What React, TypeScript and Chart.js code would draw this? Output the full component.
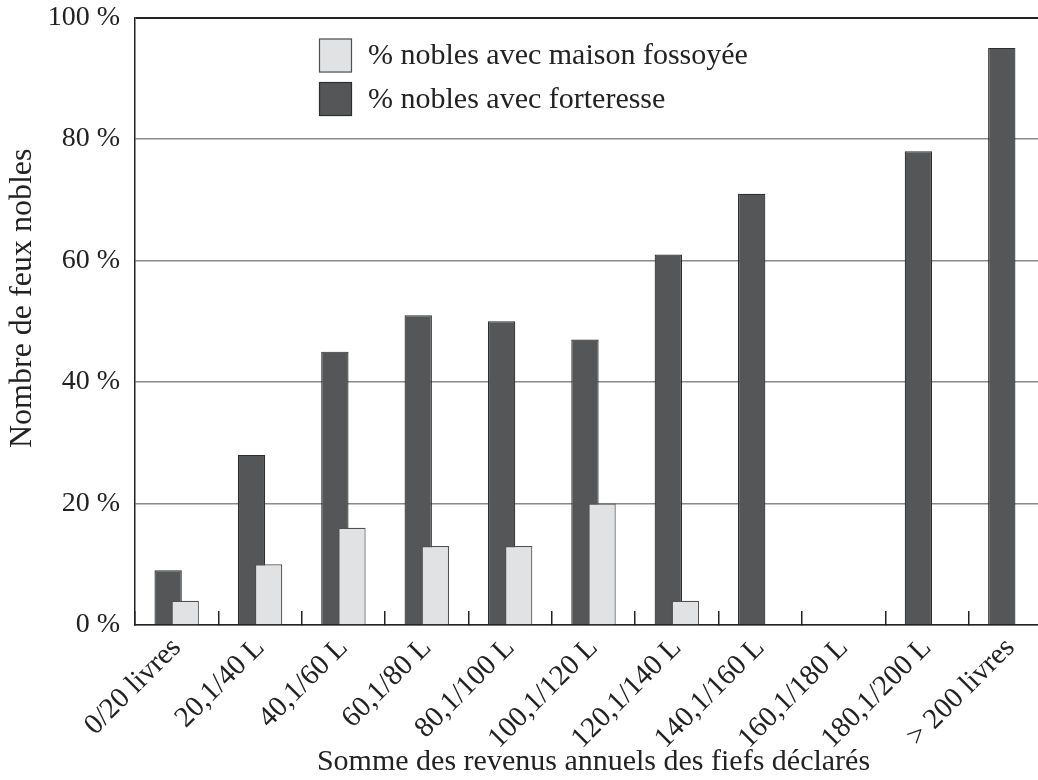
import React, { useEffect, useRef } from "react";
import { Chart, registerables } from "chart.js";

Chart.register(...registerables);

const categories = [
  "0/20 livres",
  "20,1/40 L",
  "40,1/60 L",
  "60,1/80 L",
  "80,1/100 L",
  "100,1/120 L",
  "120,1/140 L",
  "140,1/160 L",
  "160,1/180 L",
  "180,1/200 L",
  "> 200 livres",
];
const forteresse = [9, 28, 45, 51, 50, 47, 61, 71, 0, 78, 95];
const fossoyee = [4, 10, 16, 13, 13, 20, 4, 0, 0, 0, 0];
const yTicks = [0, 20, 40, 60, 80, 100];
const yTitle = "Nombre de feux nobles";

const FONT = "'Liberation Serif', 'DejaVu Serif', serif";
const TEXT = "#222";

const drawOrderPlugin = {
  id: "drawOrder",
  beforeDatasetsDraw(chart: any) {
    const metas = chart.getSortedVisibleDatasetMetas();
    const ctx = chart.ctx;
    const a = chart.chartArea;
    ctx.save();
    ctx.beginPath();
    ctx.rect(a.left, a.top - 2, a.right - a.left, a.bottom - a.top + 2);
    ctx.clip();
    for (const m of metas) m.controller.draw();
    ctx.restore();
    return false;
  },
};

const legendPlugin = {
  id: "insideLegend",
  afterDraw(chart: any) {
    const ctx = chart.ctx;
    const a = chart.chartArea;
    const order = [1, 0];
    const boxW = 33;
    const boxH = 34;
    const x0 = a.left + 184;
    const y0 = a.top + 21;
    ctx.save();
    order.forEach((di, i) => {
      const ds = chart.data.datasets[di];
      const y = y0 + i * 43.5;
      ctx.fillStyle = ds.backgroundColor;
      ctx.fillRect(x0, y, boxW, boxH);
      ctx.strokeStyle = ds.borderColor;
      ctx.lineWidth = 1.2;
      ctx.strokeRect(x0 + 0.5, y + 0.5, boxW - 1, boxH - 1);
      ctx.fillStyle = TEXT;
      ctx.font = `30px ${FONT}`;
      ctx.textBaseline = "middle";
      ctx.textAlign = "left";
      ctx.fillText(ds.label, x0 + boxW + 16, y + boxH / 2 + 1);
    });
    // y axis title
    ctx.translate(23, (a.top + a.bottom) / 2 - 23);
    ctx.rotate(-Math.PI / 2);
    ctx.font = `32px ${FONT}`;
    ctx.textAlign = "center";
    ctx.textBaseline = "middle";
    ctx.fillStyle = TEXT;
    ctx.fillText(yTitle, 0, 0);
    ctx.restore();
  },
};

export default function App() {
  const ref = useRef<HTMLCanvasElement>(null);
  useEffect(() => {
    if (!ref.current) return;
    const chart = new Chart(ref.current, {
      type: "bar",
      data: {
        labels: categories,
        datasets: [
          {
            label: "% nobles avec forteresse",
            data: forteresse,
            backgroundColor: "#555658",
            borderColor: "#2e2e2e",
            borderWidth: 1.2,
            categoryPercentage: 0.41,
            barPercentage: 1.6,
          },
          {
            label: "% nobles avec maison fossoyée",
            data: fossoyee,
            backgroundColor: "#e1e2e4",
            borderColor: "#505050",
            borderWidth: 1.2,
            categoryPercentage: 0.41,
            barPercentage: 1.6,
          },
        ],
      },
      options: {
        responsive: false,
        animation: false,
        layout: { padding: { top: 0, left: 0, right: 0, bottom: 0 } },
        plugins: {
          legend: { display: false },
          tooltip: { enabled: false },
        },
        scales: {
          x: {
            offset: true,
            grid: {
              offset: true,
              drawOnChartArea: false,
              drawTicks: true,
              tickLength: -14,
              color: "#222",
              lineWidth: 1.5,
            },
            border: { color: "#222", width: 1.5 },
            ticks: {
              maxRotation: 45,
              minRotation: 45,
              autoSkip: false,
              padding: 20,
              color: TEXT,
              font: { size: 29, family: FONT },
            },
            title: {
              display: true,
              text: "Somme des revenus annuels des fiefs déclarés",
              color: TEXT,
              font: { size: 30, family: FONT },
              padding: { top: 0, bottom: 0 },
            },
            afterFit(scale: any) {
              scale.height = 155;
              scale.paddingRight = 0;
              scale.paddingLeft = 0;
            },
          },
          y: {
            min: 0,
            max: 100,
            afterBuildTicks(scale: any) {
              scale.ticks = yTicks.map((v) => ({ value: v }));
            },
            grid: {
              drawTicks: false,
              color: (c: any) => (c.tick && c.tick.value === 100 ? "#222" : "#8a8a8a"),
              lineWidth: (c: any) => (c.tick && c.tick.value === 100 ? 2 : 1.5),
            },
            border: { color: "#222", width: 1.5 },
            ticks: {
              padding: 15,
              color: TEXT,
              font: { size: 28, family: FONT, lineHeight: 0.18 },
              callback: (v: any) => `${v} %`,
            },
            afterFit(scale: any) {
              scale.width = 135;
            },
          },
        },
      },
      plugins: [drawOrderPlugin, legendPlugin],
    });
    return () => chart.destroy();
  }, []);
  return (
    <div
      style={{
        position: "fixed",
        left: 0,
        top: 0,
        width: 1038,
        height: 780,
        overflow: "hidden",
        background: "#fff",
      }}
    >
      <canvas ref={ref} width={1052} height={780} style={{ display: "block" }} />
    </div>
  );
}
